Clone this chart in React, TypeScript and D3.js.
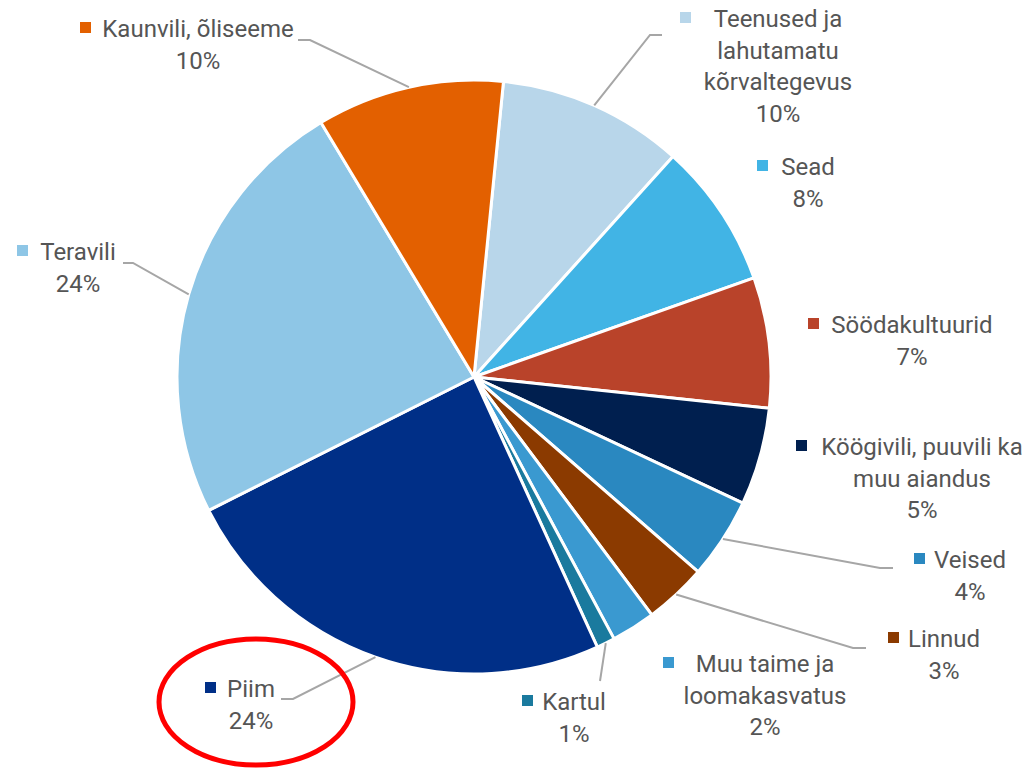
import * as d3 from 'd3';

// order clockwise, starting just right of 12 o'clock
const names = [
  ['Teenused ja', 'lahutamatu', 'kõrvaltegevus'],
  ['Sead'],
  ['Söödakultuurid'],
  ['Köögivili, puuvili ka', 'muu aiandus'],
  ['Veised'],
  ['Linnud'],
  ['Muu taime ja', 'loomakasvatus'],
  ['Kartul'],
  ['Piim'],
  ['Teravili'],
  ['Kaunvili, õliseeme'],
];
const shares = [10.1, 7.9, 7.1, 5.3, 4.4, 3.4, 2.4, 1.0, 24.4, 23.8, 10.2];
const colors = [
  '#b8d6ea', '#41b4e5', '#b9432a', '#001f4f', '#2a88c0', '#8b3a00',
  '#3a99d0', '#1a7a9e', '#002f87', '#8ec6e6', '#e36000',
];

// label layout: text centre x, first baseline y, marker x, leader elbow
const labelPos = [
  { x: 778, y: 27, mx: 680, leader: [[662, 35], [650, 35]] },
  { x: 808, y: 175, mx: 757, leader: null },
  { x: 912, y: 333, mx: 808, leader: null },
  { x: 922, y: 455, mx: 796, leader: null },
  { x: 970, y: 568, mx: 914, leader: [[893, 568], [880, 568]] },
  { x: 944, y: 647, mx: 888, leader: [[866, 648], [853, 648]] },
  { x: 765, y: 672, mx: 663, leader: null },
  { x: 574, y: 710, mx: 522, leader: [[600, 681], [600, 681]] },
  { x: 251, y: 697, mx: 205, leader: [[281, 699], [293, 699]] },
  { x: 78, y: 260, mx: 17, leader: [[123, 263], [133, 263]] },
  { x: 198, y: 37, mx: 80, leader: [[298, 40], [310, 40]] },
];

const W = 1030;
const H = 769;
const cx = 474;
const cy = 377;
const R = 297;
const LINE = 31.5;
const FONT = 'Roboto, "Liberation Sans", sans-serif';

export default function App() {
  const start = (5.7 * Math.PI) / 180;
  const pie = d3
    .pie<number>()
    .sort(null)
    .value((d) => d)
    .startAngle(start)
    .endAngle(start + Math.PI * 2);
  const arcs = pie(shares);
  const arc = d3.arc<d3.PieArcDatum<number>>().innerRadius(0).outerRadius(R);
  const total = d3.sum(shares);

  return (
    <svg
      width={W}
      height={H}
      style={{ position: 'absolute', left: 0, top: 0, background: '#fff' }}
      fontFamily={FONT}
    >
      <g transform={`translate(${cx},${cy})`}>
        {arcs.map((a, i) => (
          <path key={i} d={arc(a) ?? ''} fill={colors[i]} stroke="#fff" strokeWidth={3} strokeLinejoin="round" />
        ))}
      </g>
      {labelPos.map((p, i) => {
        if (!p.leader) return null;
        const a = arcs[i];
        const mid = (a.startAngle + a.endAngle) / 2;
        const ex = cx + R * Math.sin(mid);
        const ey = cy - R * Math.cos(mid);
        const pts = [...p.leader].reverse();
        const path = d3.line()([[ex, ey], ...pts] as [number, number][]);
        return <path key={i} d={path ?? ''} fill="none" stroke="#a6a6a6" strokeWidth={2} />;
      })}
      {labelPos.map((p, i) => {
        const lines = [...names[i], `${Math.round((shares[i] / total) * 100)}%`];
        return (
          <g key={i}>
            <rect x={p.mx} y={p.y - 15} width={11} height={11} fill={colors[i]} />
            {lines.map((t, j) => (
              <text
                key={j}
                x={p.x}
                y={p.y + j * LINE}
                textAnchor="middle"
                fontSize={24}
                fill="#555"
              >
                {t}
              </text>
            ))}
          </g>
        );
      })}
      <ellipse cx={256} cy={702} rx={97} ry={63} fill="none" stroke="#ff0000" strokeWidth={5} />
    </svg>
  );
}
